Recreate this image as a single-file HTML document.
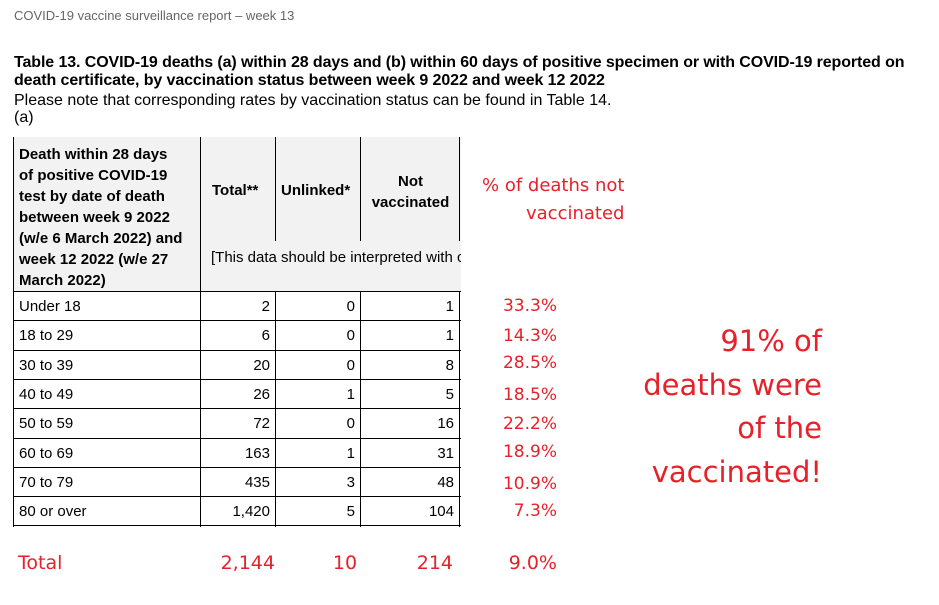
<!DOCTYPE html>
<html><head><meta charset="utf-8"><style>
body{margin:0;width:939px;height:605px;background:#fff;position:relative;overflow:hidden;font-family:"Liberation Sans",Arial,sans-serif;color:#000}
.a{position:absolute;white-space:nowrap}
.r{color:#e8202a;font-family:"DejaVu Sans",sans-serif}
.line{position:absolute;background:#000}
.cell{position:absolute;font-size:15px;line-height:15px}
</style></head><body>
<div class="a" style="left:14px;top:8px;font-size:13px;color:#666">COVID-19 vaccine surveillance report – week 13</div>
<div class="a" style="left:14px;top:54px;font-size:16px;font-weight:bold;line-height:18px;letter-spacing:-0.1px">Table 13. COVID-19 deaths (a) within 28 days and (b) within 60 days of positive specimen or with COVID-19 reported on<br>death certificate, by vaccination status between week 9 2022 and week 12 2022</div>
<div class="a" style="left:14px;top:92px;font-size:16px;line-height:17px">Please note that corresponding rates by vaccination status can be found in Table 14.<br>(a)</div>

<div class="a" style="left:13px;top:137px;width:448px;height:154px;background:#f2f2f2"></div>
<div class="a" style="left:19px;top:144px;font-size:15px;font-weight:bold;line-height:21px">Death within 28 days<br>of positive COVID-19<br>test by date of death<br>between week 9 2022<br>(w/e 6 March 2022) and<br>week 12 2022 (w/e 27<br>March 2022)</div>
<div class="a" style="left:212px;top:182px;font-size:15px;font-weight:bold">Total**</div>
<div class="a" style="left:281px;top:182px;font-size:15px;font-weight:bold">Unlinked*</div>
<div class="a" style="left:362px;top:171px;width:97px;text-align:center;font-size:15px;font-weight:bold;line-height:21px">Not<br>vaccinated</div>
<div class="a" style="left:211px;top:249px;width:250px;overflow:hidden;font-size:15px">[This data should be interpreted with caution]</div>

<div class="line" style="left:13px;top:137px;width:1px;height:390px"></div>
<div class="line" style="left:200px;top:137px;width:1px;height:390px"></div>
<div class="line" style="left:275px;top:137px;width:1px;height:104px"></div>
<div class="line" style="left:360px;top:137px;width:1px;height:104px"></div>
<div class="line" style="left:459px;top:137px;width:1px;height:104px"></div>
<div class="line" style="left:275px;top:291px;width:1px;height:236px"></div>
<div class="line" style="left:360px;top:291px;width:1px;height:236px"></div>
<div class="line" style="left:459px;top:291px;width:1px;height:236px"></div>

<div class="a r" style="left:482px;top:172px;font-size:18px;line-height:28px;text-align:right">% of deaths not<br>vaccinated</div>
<div class="a r" style="left:600px;top:320px;width:222px;text-align:right;font-size:29px;line-height:43.5px">91% of<br>deaths were<br>of the<br>vaccinated!</div>

<div class="a r" style="left:18px;top:552px;font-size:19px">Total</div>
<div class="a r" style="left:200px;width:75px;text-align:right;top:552px;font-size:19px">2,144</div>
<div class="a r" style="left:325px;width:40px;text-align:center;top:552px;font-size:19px">10</div>
<div class="a r" style="left:380px;width:73px;text-align:right;top:552px;font-size:19px">214</div>
<div class="a r" style="left:480px;width:77px;text-align:right;top:552px;font-size:19px">9.0%</div>

<script>
const ages=["Under 18","18 to 29","30 to 39","40 to 49","50 to 59","60 to 69","70 to 79","80 or over"];
const totals=["2","6","20","26","72","163","435","1,420"];
const unlinked=["0","0","0","1","0","1","3","5"];
const notVacc=["1","1","8","5","16","31","48","104"];
const pcts=["33.3%","14.3%","28.5%","18.5%","22.2%","18.9%","10.9%","7.3%"];
const pctOffsets=[0,1,-2,1,1,-1,2,0];
const root=document.body;
function mk(cls,style,txt){const d=document.createElement('div');d.className=cls;d.style.cssText=style;if(txt!==undefined)d.textContent=txt;root.appendChild(d);return d;}
const top0=291,rh=29.3;
for(let i=0;i<=ages.length;i++){
  const l=mk('line','left:13px;top:'+Math.round(top0+i*rh)+'px;width:448px;height:1px');
  
  
}
ages.forEach((a,i)=>{
  const y=Math.round(top0+i*rh)+8;
  let c=mk('a cell','left:19px;top:'+y+'px',a);
  
  
  c=mk('a cell','left:200px;width:70px;text-align:right;top:'+y+'px',totals[i]);
  
  
  c=mk('a cell','left:275px;width:80px;text-align:right;top:'+y+'px',unlinked[i]);
  
  
  c=mk('a cell','left:360px;width:94px;text-align:right;top:'+y+'px',notVacc[i]);
  
  
  c=mk('a r','left:480px;width:77px;text-align:right;font-size:17px;top:'+(y-3+pctOffsets[i])+'px',pcts[i]);
  
  
});
</script>
</body></html>
